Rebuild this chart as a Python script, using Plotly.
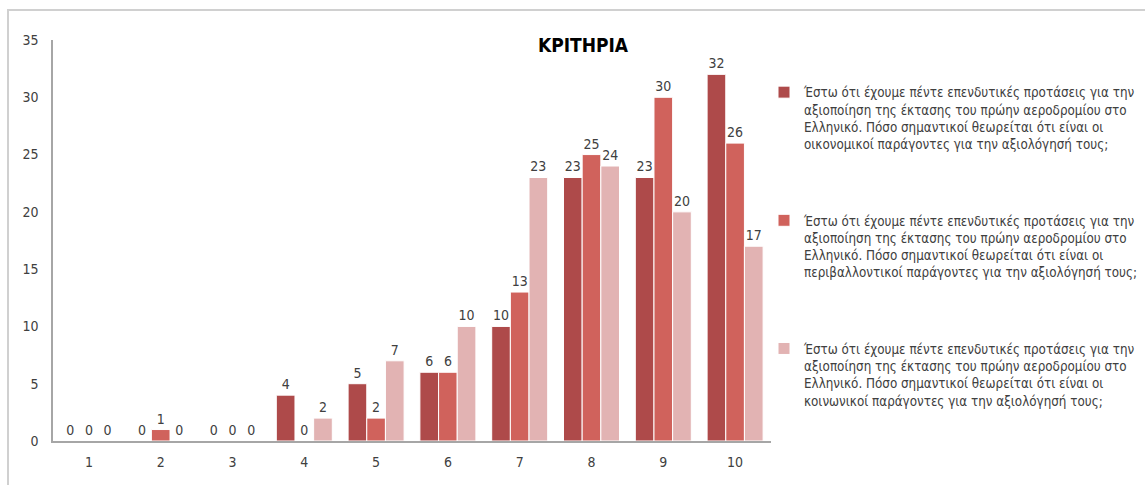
import plotly.graph_objects as go

categories = ["1", "2", "3", "4", "5", "6", "7", "8", "9", "10"]
economic = [0, 0, 0, 4, 5, 6, 10, 23, 23, 32]
environmental = [0, 1, 0, 0, 2, 6, 13, 25, 30, 26]
social = [0, 0, 0, 2, 7, 10, 23, 24, 20, 17]

q_start = ("Έστω ότι έχουμε πέντε επενδυτικές προτάσεις για την<br>"
           "αξιοποίηση της έκτασης του πρώην αεροδρομίου στο<br>"
           "Ελληνικό. Πόσο σημαντικοί θεωρείται ότι είναι οι<br>")
names = [
    q_start + "οικονομικοί παράγοντες για την αξιολόγησή τους;",
    q_start + "περιβαλλοντικοί παράγοντες για την αξιολόγησή τους;",
    q_start + "κοινωνικοί παράγοντες για την αξιολόγησή τους;",
]
series = [economic, environmental, social]
colors = ["#AE4A4A", "#D0625C", "#E2B3B3"]

FONT = "Liberation Sans Narrow, DejaVu Sans Condensed, Liberation Sans, sans-serif"

fig = go.Figure()
for i, (vals, name, col) in enumerate(zip(series, names, colors)):
    fig.add_trace(go.Bar(
        x=categories, y=vals, name=name,
        marker=dict(color=col, line=dict(color="white", width=1)),
        text=[str(v) for v in vals], textposition="outside",
        textfont=dict(family=FONT, size=14, color="#404040"),
        cliponaxis=False, legendgroup=f"g{i}",
    ))

fig.update_layout(
    width=1145, height=485,
    margin=dict(l=53, r=374, t=40, b=44, autoexpand=False),
    paper_bgcolor="white", plot_bgcolor="white",
    barmode="group", bargap=0.22, bargroupgap=0,
    font=dict(family=FONT, size=14, color="#404040"),
    title=dict(text="<b>ΚΡΙΤΗΡΙΑ</b>", x=583 / 1145, xanchor="center",
               y=1 - 45 / 485, yanchor="middle",
               font=dict(family=FONT, size=19, color="#000000")),
    showlegend=True,
    legend=dict(x=(764 - 53) / 718, y=(441 - 77) / 401, xanchor="left", yanchor="top",
                valign="top", tracegroupgap=56, bgcolor="rgba(0,0,0,0)",
                font=dict(family=FONT, size=13.3, color="#404040")),
    xaxis=dict(showline=True, linecolor="#A6A6A6", linewidth=1.5, ticks="",
               showgrid=False, ticklabelstandoff=7,
               tickfont=dict(family=FONT, size=14, color="#404040")),
    yaxis=dict(range=[0, 35], dtick=5, showline=True, linecolor="#A6A6A6", linewidth=1.5,
               showgrid=False, ticks="", zeroline=False, ticklabelstandoff=10,
               tickfont=dict(family=FONT, size=14, color="#404040")),
    shapes=[dict(type="rect", xref="paper", yref="paper",
                 x0=(8 - 53) / 718, x1=(1160 - 53) / 718,
                 y0=(441 - 500) / 401, y1=(441 - 10) / 401,
                 line=dict(color="#D0D0D0", width=2), layer="below")],
)

fig.write_html("out.html")
